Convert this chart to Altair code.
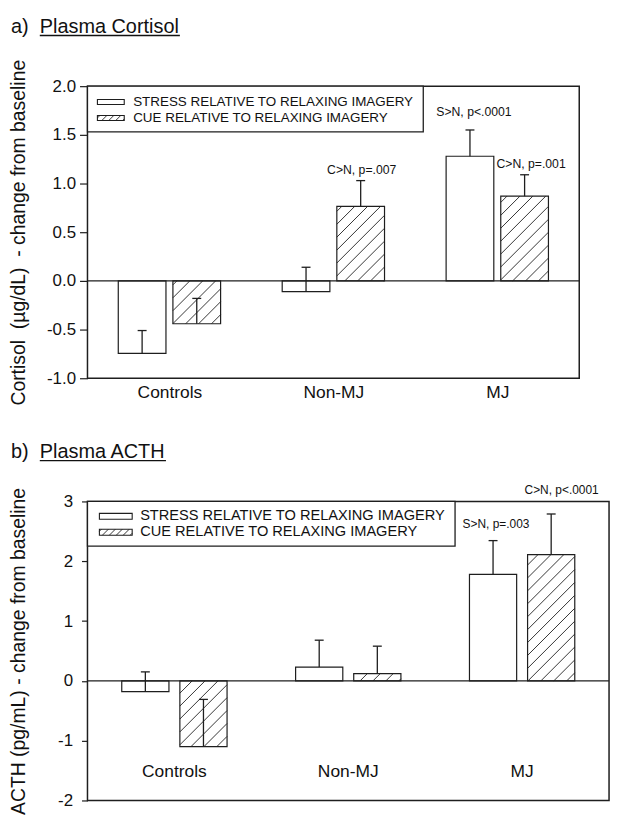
import altair as alt
import pandas as pd

# ---------------- data ----------------
groups = ["Controls", "Non-MJ", "MJ"]
series_names = ["STRESS RELATIVE TO RELAXING IMAGERY", "CUE RELATIVE TO RELAXING IMAGERY"]

cort_stress = [-0.745, -0.11, 1.28]
cort_stress_se = [0.235, 0.25, 0.27]
cort_cue = [-0.44, 0.765, 0.87]
cort_cue_se = [0.26, 0.265, 0.22]
cort_ticks = [-1.0, -0.5, 0.0, 0.5, 1.0, 1.5, 2.0]
cort_notes = [["Non-MJ", 1, "C>N, p=.007"], ["MJ", 0, "S>N, p<.0001"], ["MJ", 1, "C>N, p=.001"]]

acth_stress = [-0.18, 0.23, 1.78]
acth_stress_se = [0.33, 0.45, 0.565]
acth_cue = [-1.10, 0.12, 2.11]
acth_cue_se = [0.79, 0.46, 0.68]
acth_ticks = [-2, -1, 0, 1, 2, 3]
acth_notes = [["MJ", 0, "S>N, p=.003"], ["MJ", 1, "C>N, p<.0001"]]

FONT = "Liberation Sans"
INK = "#1e1e1e"


def hatch_segments(x0, x1, ytop, ybot, step):
    segs = []
    c = int((x0 + ytop) // step) * step
    while c <= x1 + ybot:
        xa = max(x0, c - ybot)
        xb = min(x1, c - ytop)
        if xb - xa > 0.3:
            segs.append((xa, c - xa, xb, c - xb))
        c += step
    return segs


def panel(stress, stress_se, cue, cue_se, ticks, decimals, ytitle, notes, cfg):
    W, H = cfg["W"], cfg["H"]
    ymin, ymax = cfg["ymin"], cfg["ymax"]
    pxx = W / 3.0
    pxy = H / (ymax - ymin)

    def xd(px):
        return px / pxx

    def yd(py):
        return ymax - py / pxy

    xs = alt.Scale(domain=[0, 3], nice=False, zero=False)
    ys = alt.Scale(domain=[ymin, ymax], nice=False, zero=False)

    if cfg["x_labels"]:
        names = ",".join("'%s'" % g for g in groups)
        xaxis = alt.Axis(values=[i + 0.5 for i in range(len(groups))],
                         labelExpr="[%s][floor(datum.value)]" % names,
                         ticks=False, domain=False, grid=False, title=None,
                         labelFont=FONT, labelFontSize=17.5, labelColor="#111",
                         labelPadding=cfg["x_label_pad"])
    else:
        xaxis = None

    fmt = "'.%df'" % decimals
    yaxis = alt.Axis(values=ticks,
                     labelExpr="datum.value < 0 ? '-' + format(abs(datum.value), %s) : format(datum.value, %s)" % (fmt, fmt),
                     tickSize=cfg["tick"], tickColor=INK, tickWidth=1.2,
                     labelFont=FONT, labelFontSize=17, labelColor="#111",
                     labelPadding=cfg["label_pad"], domain=False, grid=False,
                     title=ytitle, titleFont=FONT, titleFontSize=19.5,
                     titleFontWeight="normal", titleColor="#111",
                     titleX=-69, titleY=H / 2, titleAngle=270,
                     titleAlign="center", titleBaseline="middle")

    def X(f):
        return alt.X(f, type="quantitative", scale=xs, axis=xaxis)

    def Y(f):
        return alt.Y(f, type="quantitative", scale=ys, axis=yaxis)

    rows = []
    hatch = []
    for i, g in enumerate(groups):
        c = (i + 0.5) * pxx
        for s, (vals, ses) in enumerate([(stress, stress_se), (cue, cue_se)]):
            v, e = vals[i], ses[i]
            if s == 0:
                x0, x1 = c - cfg["gap"] - cfg["bw"], c - cfg["gap"]
            else:
                x0, x1 = c + cfg["gap"], c + cfg["gap"] + cfg["bw"]
            xc = (x0 + x1) / 2
            rows.append(dict(group=g, s=s, value=v, se=e, top=v + e, zero=0.0,
                             x0=xd(x0), x1=xd(x1), xc=xd(xc),
                             cap0=xd(xc - 4.5), cap1=xd(xc + 4.5)))
            if s == 1:
                ytop = (ymax - max(v, 0)) * pxy
                ybot = (ymax - min(v, 0)) * pxy
                for (a, b, cc, d) in hatch_segments(x0, x1, ytop, ybot, 13):
                    hatch.append(dict(hx0=xd(a), hy0=yd(b), hx1=xd(cc), hy1=yd(d)))
    df = pd.DataFrame(rows)
    dh = pd.DataFrame(hatch)

    layers = []
    layers.append(alt.Chart(df).mark_rect(fill="white", stroke=INK, strokeWidth=1.2).encode(
        x=X("x0"), x2="x1", y=Y("value"), y2="zero"))
    layers.append(alt.Chart(dh).mark_rule(stroke=INK, strokeWidth=0.9).encode(
        x=X("hx0"), y=Y("hy0"), x2="hx1", y2="hy1"))
    zl = pd.DataFrame({"a": [0.0], "b": [3.0], "z": [0.0]})
    layers.append(alt.Chart(zl).mark_rule(stroke=INK, strokeWidth=1.3).encode(
        x=X("a"), x2="b", y=Y("z")))
    layers.append(alt.Chart(df).mark_rule(stroke=INK, strokeWidth=1.3).encode(
        x=X("xc"), y=Y("value"), y2="top"))
    layers.append(alt.Chart(df).mark_rule(stroke=INK, strokeWidth=1.3).encode(
        x=X("cap0"), x2="cap1", y=Y("top")))

    # significance notes
    for (g, s, txt), (dx, dy) in zip(notes, cfg["note_off"]):
        r = df[(df.group == g) & (df.s == s)][["xc", "top"]].copy()
        r["label"] = txt
        layers.append(alt.Chart(r).mark_text(font=FONT, fontSize=cfg["note_font"], color="#111",
                                             align="center", baseline="middle", dx=dx, dy=dy).encode(
            x=X("xc"), y=Y("top"), text="label:N"))

    # category labels inside the plot (bottom panel)
    if not cfg["x_labels"]:
        dc = pd.DataFrame({"group": groups, "xc": [i + 0.5 for i in range(len(groups))],
                           "yy": [cfg["cat_y"]] * len(groups)})
        layers.append(alt.Chart(dc).mark_text(font=FONT, fontSize=17.5, color="#111",
                                              align="center", baseline="middle").encode(
            x=X("xc"), y=Y("yy"), text="group:N"))

    # legend box
    one = pd.DataFrame({"k": [0]})
    lw, lh = cfg["leg_w"], cfg["leg_h"]
    layers.append(alt.Chart(one).mark_rect(fill="white", stroke=INK, strokeWidth=1.3).encode(
        x=alt.value(0), x2=alt.value(lw), y=alt.value(0), y2=alt.value(lh)))
    sx0, sx1 = cfg["sw_x"]
    sh = cfg["sw_h"]
    leg_hatch = []
    for k, ry in enumerate(cfg["rows_y"]):
        layers.append(alt.Chart(one).mark_rect(fill="white", stroke=INK, strokeWidth=1.1).encode(
            x=alt.value(sx0), x2=alt.value(sx1), y=alt.value(ry - sh / 2), y2=alt.value(ry + sh / 2)))
        layers.append(alt.Chart(one).mark_text(text=series_names[k], font=FONT, fontSize=cfg["leg_font"],
                                               color="#111", align="left", baseline="middle").encode(
            x=alt.value(cfg["leg_text_x"]), y=alt.value(ry)))
        if k == 1:
            for (a, b, cc, d) in hatch_segments(sx0, sx1, ry - sh / 2, ry + sh / 2, 7):
                leg_hatch.append(dict(hx0=xd(a), hy0=yd(b), hx1=xd(cc), hy1=yd(d)))
    layers.append(alt.Chart(pd.DataFrame(leg_hatch)).mark_rule(stroke=INK, strokeWidth=0.9).encode(
        x=X("hx0"), y=Y("hy0"), x2="hx1", y2="hy1"))

    # panel title with underlined name
    tb = cfg["title_base"]
    layers.append(alt.Chart(one).mark_text(text=cfg["title_letter"], font=FONT, fontSize=20, color="#111",
                                           align="left", baseline="alphabetic").encode(
        x=alt.value(-77), y=alt.value(tb)))
    layers.append(alt.Chart(one).mark_text(text=cfg["title_text"], font=FONT, fontSize=20, color="#111",
                                           align="left", baseline="alphabetic").encode(
        x=alt.value(-48), y=alt.value(tb)))
    layers.append(alt.Chart(one).mark_rule(stroke="#111", strokeWidth=1.3).encode(
        x=alt.value(-48), x2=alt.value(-48 + cfg["title_w"]), y=alt.value(tb + 3)))

    return alt.layer(*layers).properties(width=W, height=H)


top = panel(cort_stress, cort_stress_se, cort_cue, cort_cue_se, cort_ticks, 1,
            "Cortisol\u00a0 (µg/dL)\u00a0 - change from baseline", cort_notes,
            dict(W=495, H=294, ymin=-1.0, ymax=2.0, gap=3.5, bw=48, x_labels=True, x_label_pad=5,
                 tick=8, label_pad=4, note_font=12.3,
                 note_off=[(1, -11), (4, -18), (6.5, -11)],
                 leg_w=338, leg_h=46, sw_x=(10, 37), sw_h=5, rows_y=(16, 32),
                 leg_font=13.5, leg_text_x=46,
                 title_letter="a)", title_text="Plasma Cortisol", title_base=-54, title_w=141))

bottom = panel(acth_stress, acth_stress_se, acth_cue, acth_cue_se, acth_ticks, 0,
               "ACTH (pg/mL) - change from baseline", acth_notes,
               dict(W=525, H=301, ymin=-2.0, ymax=3.0, gap=5.5, bw=47.5, x_labels=False, cat_y=-1.53,
                    tick=6, label_pad=9, note_font=12,
                    note_off=[(3, -17), (10.5, -24)],
                    leg_w=370, leg_h=45, sw_x=(12, 45), sw_h=6, rows_y=(15, 31),
                    leg_font=14.7, leg_text_x=53,
                    title_letter="b)", title_text="Plasma ACTH", title_base=-44, title_w=127))

chart = alt.vconcat(top, bottom, spacing=124, bounds="flush").properties(
    padding={"left": 0, "top": 5, "right": 5, "bottom": 5},
    background="white"
).configure_view(stroke=INK, strokeWidth=1.5)

chart.save("out.html", embed_options={"renderer": "svg", "actions": False})
